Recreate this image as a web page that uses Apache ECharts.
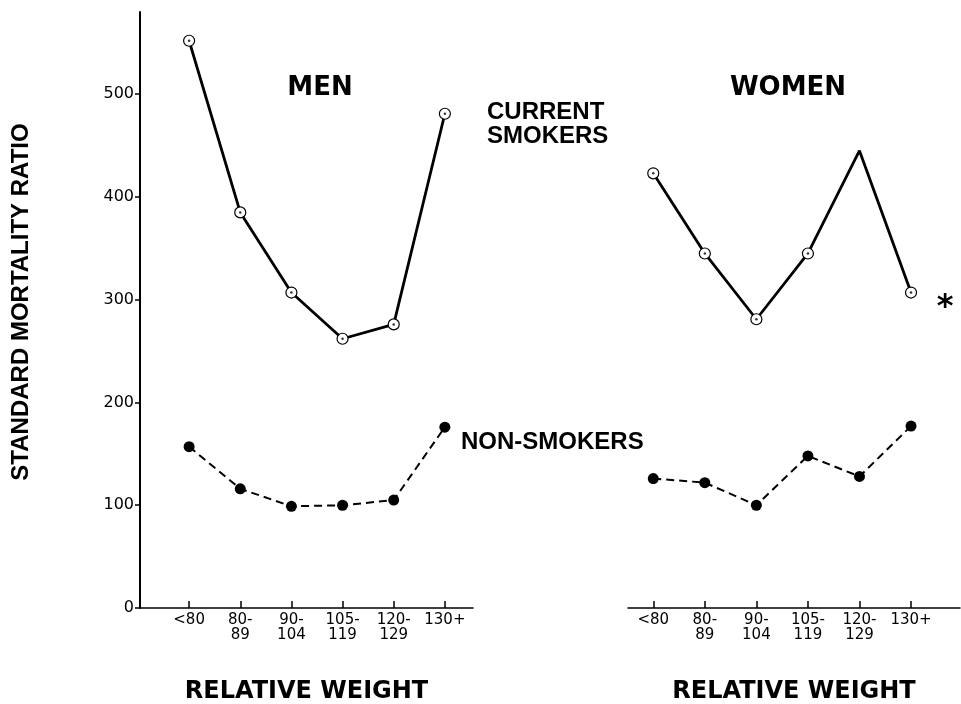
<!DOCTYPE html>
<html>
<head>
<meta charset="utf-8">
<script src="https://cdn.jsdelivr.net/npm/echarts@6/dist/echarts.min.js"></script>
<style>
html,body{margin:0;padding:0;background:#fff;}
#c{width:961px;height:704px;}
</style>
</head>
<body>
<div id="c"></div>
<script>
// ---- data ----
const categories = ['<80', '80-\n89', '90-\n104', '105-\n119', '120-\n129', '130+'];
const yTicks = [0, 100, 200, 300, 400, 500];
const menSmokers = [552, 385, 307, 262, 276, 481];
const menNonSmokers = [157, 116, 99, 100, 105, 176];
const womenSmokers = [423, 345, 281, 345, 445, 307];
const womenSmokerMarked = [true, true, true, true, false, true];
const womenNonSmokers = [126, 122, 100, 148, 128, 177];

const catIdx = categories.map((c, i) => i);
const pairs = arr => arr.map((v, i) => [i, v]);

const FONT = 'DejaVu Sans';
const ARIAL = 'Liberation Sans';

function xAxisCfg(gridIndex, min, max) {
  return {
    type: 'value', gridIndex, min, max,
    axisLine: { show: true, onZero: false, lineStyle: { color: '#000', width: 1.5 } },
    axisTick: { show: true, inside: true, length: 7, customValues: catIdx, lineStyle: { color: '#000', width: 1.5 } },
    axisLabel: {
      show: true, customValues: catIdx, margin: 5,
      formatter: v => categories[Math.round(v)],
      fontFamily: FONT, fontSize: 15, lineHeight: 15, color: '#000'
    },
    splitLine: { show: false },
    name: 'RELATIVE WEIGHT', nameLocation: 'middle', nameGap: 72,
    nameTextStyle: { fontFamily: FONT, fontWeight: 'bold', fontSize: 24, color: '#000' }
  };
}

function yAxisCfg(gridIndex, show) {
  return {
    type: 'value', gridIndex, min: 0, max: 580, show,
    axisLine: { show: true, onZero: false, lineStyle: { color: '#000', width: 2 } },
    axisTick: { show: true, length: 5, customValues: yTicks, lineStyle: { color: '#000', width: 1.5 } },
    axisLabel: { show: true, customValues: yTicks, margin: 6, fontFamily: FONT, fontSize: 16, color: '#000' },
    splitLine: { show: false }
  };
}

function smokerSeries(xi, arr, marked) {
  return {
    type: 'line', xAxisIndex: xi, yAxisIndex: xi,
    data: arr.map((v, i) => (marked && !marked[i]) ? { value: [i, v], symbol: 'none' } : { value: [i, v] }),
    symbol: 'circle', symbolSize: 11, showSymbol: true,
    lineStyle: { color: '#000', width: 2.8 },
    itemStyle: { color: '#fff', borderColor: '#000', borderWidth: 1.2 },
    z: 3
  };
}
function dotSeries(xi, arr, marked) {
  return {
    type: 'scatter', xAxisIndex: xi, yAxisIndex: xi,
    data: arr.map((v, i) => [i, v]).filter((p, i) => !marked || marked[i]),
    symbol: 'circle', symbolSize: 2.5,
    itemStyle: { color: '#000' }, z: 4
  };
}
function nonSmokerSeries(xi, arr) {
  return {
    type: 'line', xAxisIndex: xi, yAxisIndex: xi,
    data: pairs(arr),
    symbol: 'circle', symbolSize: 11,
    lineStyle: { color: '#000', width: 2, type: [8, 5] },
    itemStyle: { color: '#000' },
    z: 3
  };
}

const chart = echarts.init(document.getElementById('c'), null, { renderer: 'canvas' });
chart.setOption({
  animation: false,
  backgroundColor: '#fff',
  grid: [
    { left: 140, top: 12, width: 333, height: 596, containLabel: false, outerBoundsMode: 'none' },
    { left: 628, top: 12, width: 332, height: 596, containLabel: false, outerBoundsMode: 'none' }
  ],
  xAxis: [xAxisCfg(0, -0.96, 5.55), xAxisCfg(1, -0.49, 5.95)],
  yAxis: [yAxisCfg(0, true), yAxisCfg(1, false)],
  series: [
    smokerSeries(0, menSmokers, null),
    dotSeries(0, menSmokers, null),
    nonSmokerSeries(0, menNonSmokers),
    smokerSeries(1, womenSmokers, womenSmokerMarked),
    dotSeries(1, womenSmokers, womenSmokerMarked),
    nonSmokerSeries(1, womenNonSmokers)
  ],
  graphic: [
    { type: 'text', x: 21, y: 302, rotation: Math.PI / 2,
      style: { text: 'STANDARD MORTALITY RATIO', align: 'center', verticalAlign: 'middle',
        font: 'bold 24px "' + ARIAL + '"', fill: '#000' } },
    { type: 'text', x: 320, y: 88,
      style: { text: 'MEN', align: 'center', verticalAlign: 'middle', font: 'bold 26px "' + FONT + '"', fill: '#000' } },
    { type: 'text', x: 788, y: 88,
      style: { text: 'WOMEN', align: 'center', verticalAlign: 'middle', font: 'bold 26px "' + FONT + '"', fill: '#000' } },
    { type: 'text', x: 487, y: 100,
      style: { text: 'CURRENT\nSMOKERS', align: 'left', verticalAlign: 'top', lineHeight: 24,
        font: 'bold 24px "' + ARIAL + '"', fill: '#000' } },
    { type: 'text', x: 461, y: 442,
      style: { text: 'NON-SMOKERS', align: 'left', verticalAlign: 'middle',
        font: 'bold 24px "' + ARIAL + '"', fill: '#000' } },
    { type: 'text', x: 945, y: 308,
      style: { text: '*', align: 'center', verticalAlign: 'middle', font: 'bold 32px "' + FONT + '"', fill: '#000' } }
  ]
});
</script>
</body>
</html>
